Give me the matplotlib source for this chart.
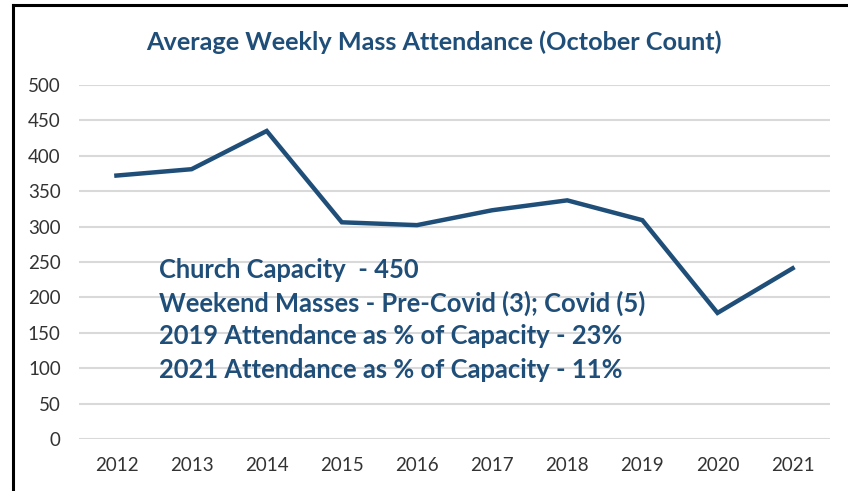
import matplotlib.pyplot as plt
from matplotlib.lines import Line2D

years = ['2012', '2013', '2014', '2015', '2016', '2017', '2018', '2019', '2020', '2021']
attendance = [372, 381, 435, 306, 302, 323, 337, 309, 178, 241]
notes = [
    "Church Capacity  - 450",
    "Weekend Masses - Pre-Covid (3); Covid (5)",
    "2019 Attendance as % of Capacity - 23%",
    "2021 Attendance as % of Capacity - 11%",
]

blue = '#1F4E79'
plt.rcParams['font.family'] = ['Lato', 'DejaVu Sans']

fig = plt.figure(figsize=(8.48, 4.91), dpi=100)
ax = fig.add_axes([0.093, 0.106, 0.886, 0.721])

x = range(len(years))
ax.plot(x, attendance, color=blue, lw=3.2, solid_joinstyle='miter')
ax.set_xlim(-0.5, len(years) - 0.5)
ax.set_ylim(0, 500)
ax.set_yticks(range(0, 501, 50))
ax.set_xticks(list(x))
ax.set_xticklabels(years)
ax.grid(axis='y', color='#D9D9D9', lw=1.5)
ax.set_axisbelow(True)
for s in ax.spines.values():
    s.set_visible(False)
ax.tick_params(length=0, labelsize=13.5, colors='#333333')
ax.tick_params(axis='x', pad=13)
ax.tick_params(axis='y', pad=13)

fig.text(0.512, 0.915, "Average Weekly Mass Attendance (October Count)",
         ha='center', va='center', fontsize=18.2, fontweight='bold', color=blue)

for i, line in enumerate(notes):
    ax.text(0.107, 0.478 - i * 0.094, line, transform=ax.transAxes,
            fontsize=18.4, fontweight='bold', color=blue, va='center')

# outer frame (cropped, only left and top visible)
fig.add_artist(Line2D([13 / 848, 13 / 848], [0, 1 - 5 / 491], color='black', lw=2.2,
                      transform=fig.transFigure))
fig.add_artist(Line2D([13 / 848, 1], [1 - 5 / 491, 1 - 5 / 491], color='black', lw=2.2,
                      transform=fig.transFigure))

fig.savefig('out.png', dpi=100)
